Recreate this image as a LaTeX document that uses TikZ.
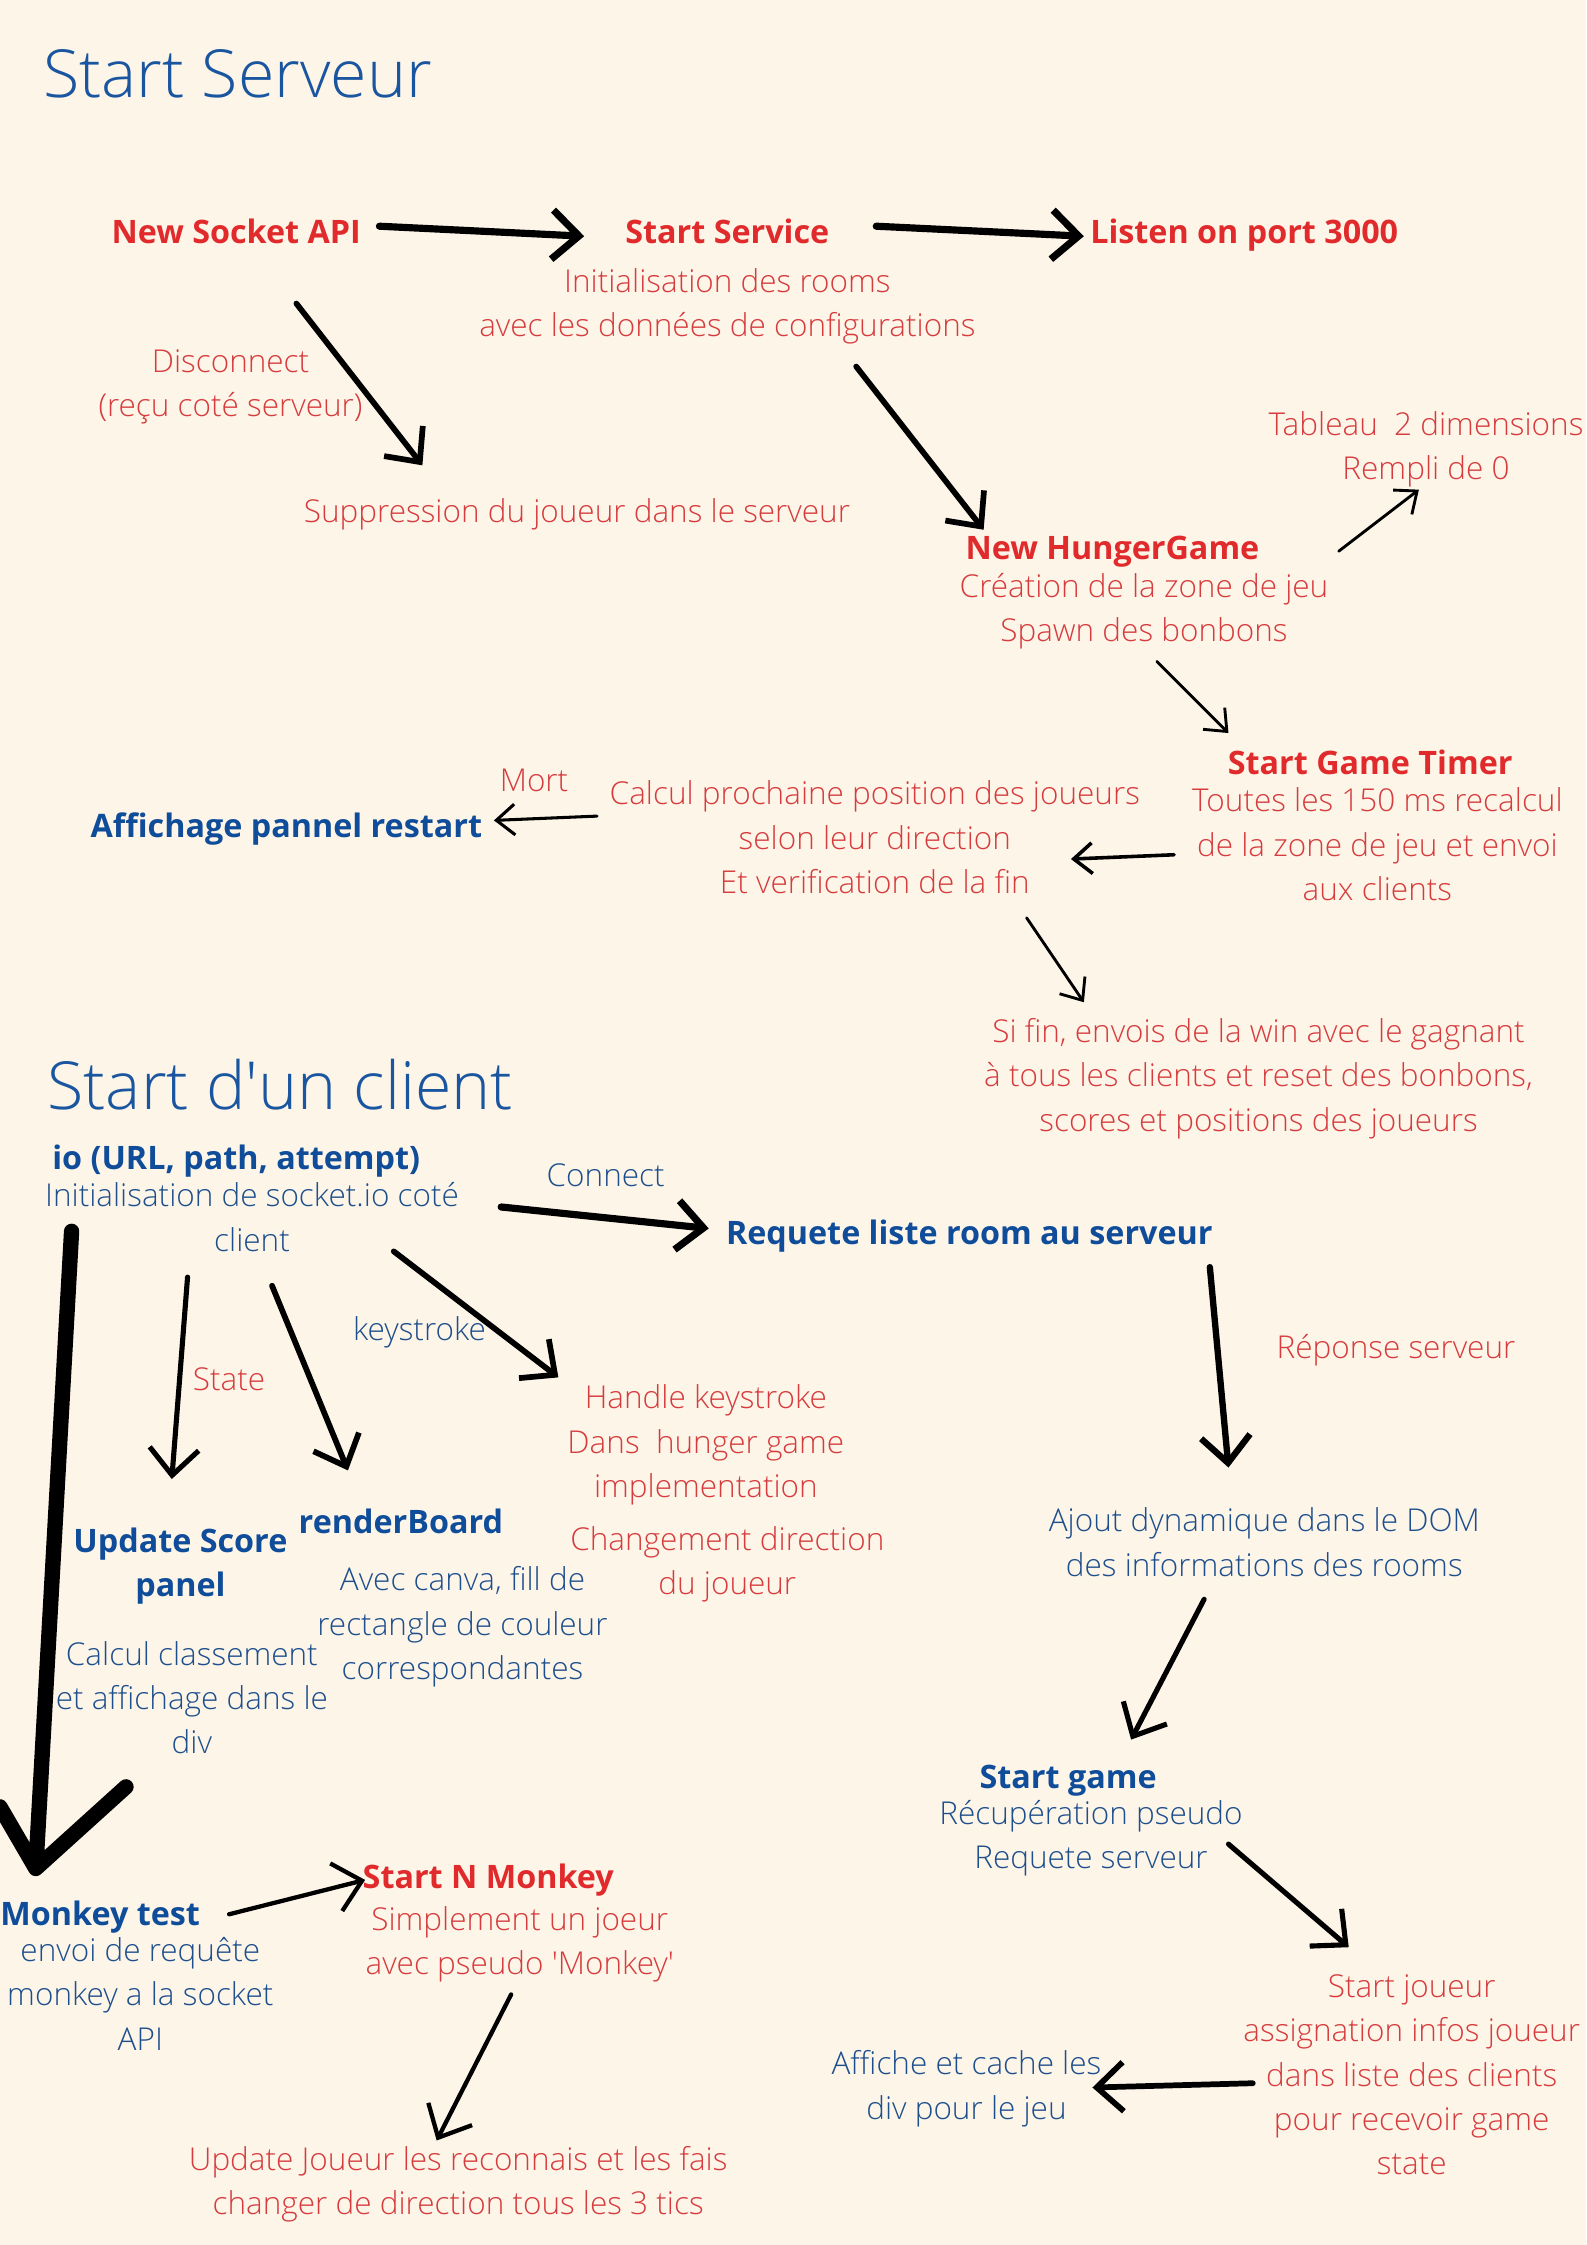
\documentclass[tikz,border=0pt]{standalone}
\usepackage{fontspec}
\setmainfont{Open Sans}[UprightFont=* Light, BoldFont=* Bold]
\usetikzlibrary{arrows.meta}
\definecolor{bg}{HTML}{FDF5E8}
\definecolor{rhead}{HTML}{E02A2B}
\definecolor{rbody}{HTML}{D63C3E}
\definecolor{bhead}{HTML}{0F4C99}
\definecolor{bbody}{HTML}{1E4F8D}
\definecolor{ttl}{HTML}{1A55A0}
\newcommand\ml[1]{\begin{tabular}[t]{@{}c@{}}#1\end{tabular}}
\tikzset{
 txt/.style={inner sep=0pt, anchor=base, font=\fontsize{15.4}{21.7}\selectfont},
 rb/.style={txt, text=rbody},
 bb/.style={txt, text=bbody},
 rh/.style={txt, text=rhead, font=\fontsize{15.8}{21.7}\selectfont\bfseries},
 bh/.style={txt, text=bhead, font=\fontsize{15.8}{21.7}\selectfont\bfseries},
 ttlstyle/.style={inner sep=0pt, anchor=base west, text=ttl, font=\fontsize{32.4}{38}\selectfont},
 arr/.style={-{Straight Barb[length=13pt,width=24pt]}, line cap=round, line join=round, line width=#1},
 arrthin/.style={-{Straight Barb[length=9pt,width=15pt]}, line cap=round, line join=round, line width=#1},
}
\begin{document}
\begin{tikzpicture}[x=0.7pt,y=-0.7pt]
\fill[bg] (0,0) rectangle (1108,1568);
\useasboundingbox (0,0) rectangle (1108,1568);
% ---------- server ----------
\node[ttlstyle] (tserv) at (30,68) {Start Serveur};
\node[rh] (nsock) at (165,170) {New Socket API};
\node[rh] (sserv) at (508,170) {Start Service};
\node[rb] (sservb) at (508,204) {\ml{Initialisation des rooms\\avec les données de configurations}};
\node[rh] (listen) at (869,170) {Listen on port 3000};
\node[rb] (disc) at (161,260) {\ml{Disconnect\\(reçu coté serveur)}};
\node[rb] (supp) at (403,365) {Suppression du joueur dans le serveur};
\node[rh] (hunger) at (777,391) {New HungerGame};
\node[rb] (hungerb) at (799,417) {\ml{Création de la zone de jeu\\Spawn des bonbons}};
\node[rb] (tab) at (996,304) {\ml{Tableau\ \ 2 dimensions\\Rempli de 0}};
\node[rh] (timer) at (957,541) {Start Game Timer};
\node[rb] (timerb) at (962,567) {\ml{Toutes les 150 ms recalcul\\de la zone de jeu et envoi\\aux clients}};
\node[rb] (calc) at (611,562) {\ml{Calcul prochaine position des joueurs\\selon leur direction\\Et verification de la fin}};
\node[rb] (mort) at (373,553) {Mort};
\node[bh] (affp) at (200,585) {Affichage pannel restart};
\node[rb] (sifin) at (879,728) {\ml{Si fin, envois de la win avec le gagnant\\à tous les clients et reset des bonbons,\\scores et positions des joueurs}};
% ---------- client ----------
\node[ttlstyle] (tcli) at (33,775) {Start d\textquotesingle un client};
\node[bh] (io) at (165,817) {io (URL, path, attempt)};
\node[bb] (iob) at (176,843) {\ml{Initialisation de socket.io coté\\client}};
\node[bb] (connect) at (423,829) {Connect};
\node[bh] (req) at (677,869) {Requete liste room au serveur};
\node[rb] (rep) at (975,949) {Réponse serveur};
\node[bb] (ajout) at (883,1070) {\ml{Ajout dynamique dans le DOM\\des informations des rooms}};
\node[bh] (sgame) at (746,1249) {Start game};
\node[bb] (sgameb) at (762,1274) {\ml{Récupération pseudo\\Requete serveur}};
\node[rb] (sjoueur) at (986,1395) {\ml{Start joueur\\assignation infos joueur\\dans liste des clients\\pour recevoir game\\state}};
\node[bb] (affiche) at (675,1449) {\ml{Affiche et cache les\\div pour le jeu}};
\node[rb] (state) at (160,971) {State};
\node[bb] (keys) at (293,936) {keystroke};
\node[rb] (handle) at (493,984) {\ml{Handle keystroke\\Dans\ \ hunger game\\implementation}};
\node[rb] (chg) at (508,1083) {\ml{Changement direction\\du joueur}};
\node[bh] (usp) at (126,1084) {\ml{Update Score\\panel}};
\node[bb] (uspb) at (134,1163) {\ml{Calcul classement\\et affichage dans le\\div}};
\node[bh] (render) at (280,1071) {renderBoard};
\node[bb] (renderb) at (323,1111) {\ml{Avec canva, fill de\\rectangle de couleur\\correspondantes}};
\node[bh] (mtest) at (70,1345) {Monkey test};
\node[bb] (mtestb) at (98,1370) {\ml{envoi de requête\\monkey a la socket\\API}};
\node[rh] (snm) at (341,1319) {Start N Monkey};
\node[rb] (snmb) at (363,1348) {\ml{Simplement un joeur\\avec pseudo \textquotesingle Monkey\textquotesingle}};
\node[rb] (upd) at (320,1516) {\ml{Update Joueur les reconnais et les fais\\changer de direction tous les 3 tics}};
% ---------- connectors ----------
\draw[arr=3.5pt] ([shift={(100,-12)}]nsock.base) -- ([shift={(-100,-5)}]sserv.base);
\draw[arr=3.5pt] ([shift={(104,-12)}]sserv.base) -- ([shift={(-112,-5)}]listen.base);
\draw[arr=2.8pt] ([shift={(42,42)}]nsock.base) -- ([shift={(-108,-40)}]supp.base);
\draw[arr=2.8pt] ([shift={(90,86)}]sserv.base) -- ([shift={(-90,-21)}]hunger.base);
\draw[arrthin=1.4pt] ([shift={(158,-6)}]hunger.base) -- ([shift={(-5,38)}]tab.base);
\draw[arrthin=1.4pt] ([shift={(9,45)}]hungerb.base) -- ([shift={(-99,-29)}]timer.base);
\draw[arrthin=1.75pt] ([shift={(-142,30)}]timerb.base) -- ([shift={(137,38)}]calc.base);
\draw[arrthin=1.5pt] ([shift={(-194,8)}]calc.base) -- ([shift={(145,-12)}]affp.base);
\draw[arrthin=1.4pt] ([shift={(106,79)}]calc.base) -- ([shift={(-122,-28)}]sifin.base);
\draw[arr=3.5pt] ([shift={(174,0)}]iob.base) -- ([shift={(-182,-11)}]req.base);
\draw[arr=3.1pt] ([shift={(168,16)}]req.base) -- ([shift={(-25,-45)}]ajout.base);
\draw[arr=2.5pt] ([shift={(-42,47)}]ajout.base) -- ([shift={(44,-34)}]sgame.base);
\draw[arr=2.5pt] ([shift={(96,14)}]sgameb.base) -- ([shift={(-44,-35)}]sjoueur.base);
\draw[arr=2.8pt] ([shift={(-111,60)}]sjoueur.base) -- ([shift={(88,9)}]affiche.base);
\draw[arr=2.5pt] ([shift={(-45,49)}]iob.base) -- ([shift={(-6,-51)}]usp.base);
\draw[arr=2.8pt] ([shift={(14,55)}]iob.base) -- ([shift={(-37,-44)}]render.base);
\draw[arr=2.8pt] ([shift={(99,31)}]iob.base) -- ([shift={(-103,-22)}]handle.base);
\draw[line width=7.5pt, line cap=round, line join=round]
  ([shift={(-126,17)}]iob.base) -- ([shift={(-45,-40)}]mtest.base) -- ([shift={(-70,-83)}]mtest.base)
  ([shift={(-45,-40)}]mtest.base) -- ([shift={(18,-97)}]mtest.base);
\draw[arr=2.1pt] ([shift={(90,-8)}]mtest.base) -- ([shift={(-86,-6)}]snm.base);
\draw[arr=2.1pt] ([shift={(-6,45)}]snmb.base) -- ([shift={(-15,-21)}]upd.base);
\end{tikzpicture}
\end{document}
